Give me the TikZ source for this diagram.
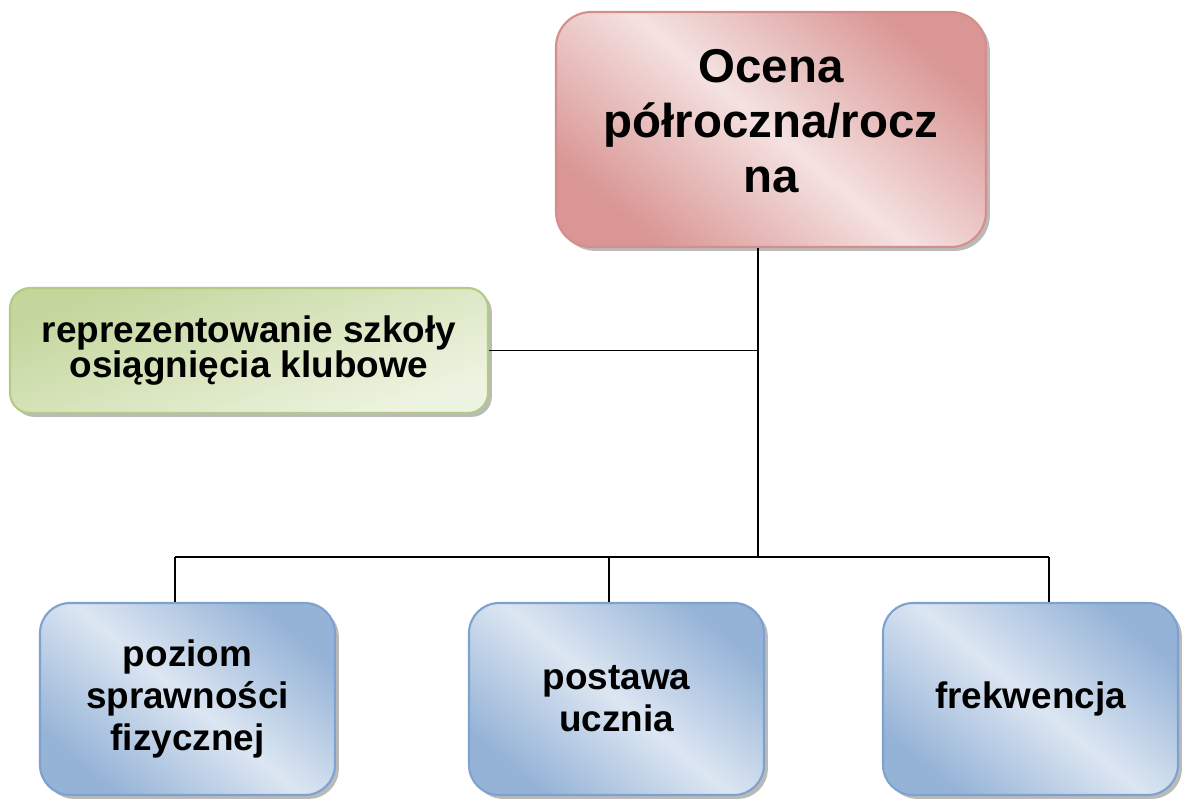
\documentclass[tikz,border=0pt]{standalone}
\usepackage{fontspec}
\setmainfont{Liberation Sans}
\usepackage{tikz}
\usetikzlibrary{shadows,positioning}
\definecolor{reddark}{HTML}{D99694}
\definecolor{redlight}{HTML}{F4E2E1}
\definecolor{redline}{HTML}{D48E8C}
\definecolor{bluedark}{HTML}{95B3D7}
\definecolor{bluelight}{HTML}{DCE6F2}
\definecolor{blueline}{HTML}{7EA2CF}
\definecolor{greendark}{HTML}{C3D69B}
\definecolor{greenlight}{HTML}{EEF4E2}
\definecolor{greenline}{HTML}{B3CB85}
\tikzset{
  every picture/.style = {
    x = 0.02cm,
    y = -0.02cm,
    line width = 1pt,
  }
  ,
  box/.style = {
    rectangle,
    align = center,
    font = \bfseries,
    line width = 1.2pt,
    drop shadow = {shadow xshift=2.2pt, shadow yshift=-2.2pt, opacity=0.45, fill=gray!80!black}
  }
  , % the top box
  redbox/.style = {
    box,
    draw = redline,
    rounded corners = 0.7cm,
    top color = reddark,
    bottom color = reddark,
    middle color = redlight,
    shading angle = -40,
    minimum width = 8.6cm,
    minimum height = 4.7cm,
    font = \fontsize{27}{31.5}\selectfont\bfseries
  }
  , % the side box
  greenbox/.style = {
    box,
    draw = greenline,
    rounded corners = 0.4cm,
    top color = greendark,
    bottom color = greenlight,
    shading angle = 20,
    minimum width = 9.56cm,
    minimum height = 2.5cm,
    font = \fontsize{21}{20}\selectfont\bfseries
  }
  , % the boxes of the bottom row
  bluebox/.style = {
    box,
    draw = blueline,
    rounded corners = 0.6cm,
    top color = bluedark,
    bottom color = bluedark,
    middle color = bluelight,
    shading angle = -40,
    minimum width = 5.9cm,
    minimum height = 3.84cm,
    font = \fontsize{21}{24}\selectfont\bfseries
  }
}
\begin{document}
\begin{tikzpicture}
    \useasboundingbox (0,0) rectangle (1183,798);
    \node[redbox] at (771,129.5) (ocena) {Ocena\\półroczna/rocz\\na\\[-0.8em]};
    \node[greenbox] at (249,350.5) (repr) {reprezentowanie szkoły\\osiągnięcia klubowe};
    \node[bluebox] at (187.5,699) (poz) {poziom\\sprawności\\fizycznej};
    \node[bluebox] at (616.5,699) (post) {postawa\\ucznia};
    \node[bluebox] at (1030.5,699) (frek) {frekwencja};
    \coordinate (trunk) at (758,557);
    \coordinate (jpoz) at (175,557);
    \coordinate (jpost) at (609,557);
    \coordinate (jfrek) at (1049,557);
    \path (ocena.south -| trunk) edge (trunk);
    \path (repr.east) edge (repr.east -| trunk);
    \path (jpoz) edge (jfrek);
    \path (jpoz) edge (jpoz |- poz.north);
    \path (jpost) edge (jpost |- post.north);
    \path (jfrek) edge (jfrek |- frek.north);
\end{tikzpicture}
\end{document}
